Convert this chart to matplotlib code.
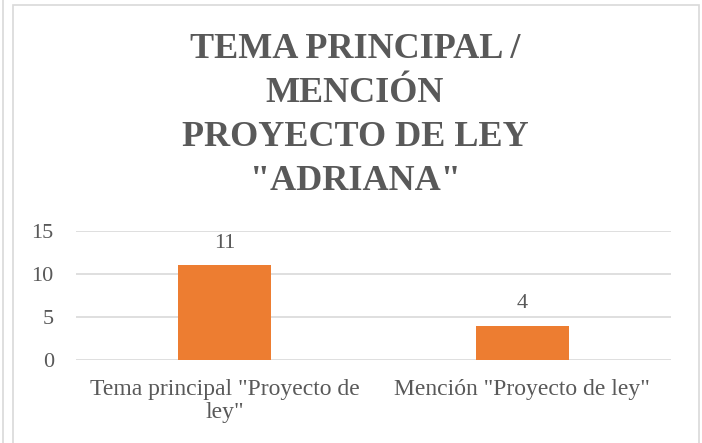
import matplotlib.pyplot as plt
from matplotlib.patches import Rectangle
from matplotlib.lines import Line2D

categories = ['Tema principal "Proyecto de\nley"', 'Mención "Proyecto de ley"']
values = [11, 4]
yticks = [0, 5, 10, 15]
title = 'TEMA PRINCIPAL /\nMENCIÓN\nPROYECTO DE LEY\n"ADRIANA"'

plt.rcParams['font.family'] = ['Liberation Serif', 'DejaVu Serif']
gray = '#595959'

W, H = 702, 443
fig = plt.figure(figsize=(W / 100, H / 100), dpi=100)

# marcos del gráfico
fig.add_artist(Line2D([3 / W, 3 / W], [0, 1], color='#d9d9d9', lw=1.2))
fig.add_artist(Rectangle((13 / W, -0.01), (699 - 13) / W, 1 - 5 / H + 0.01,
                         fill=False, edgecolor='#d9d9d9', lw=1.2))

ax = fig.add_axes([76 / W, 1 - 360 / H, (671 - 76) / W, (360 - 231) / H])
x = list(range(len(categories)))
bars = ax.bar(x, values, width=0.313, color='#ED7D31', zorder=3)
for b, v in zip(bars, values):
    ax.text(b.get_x() + b.get_width() / 2, v + 1.5, str(v), ha='center', va='bottom',
            fontsize=16, color=gray)

ax.set_xlim(-0.5, 1.5)
ax.set_ylim(0, 15)
ax.set_yticks(yticks)
ax.set_xticks(x)
ax.set_xticklabels(categories, fontsize=17, color=gray, linespacing=1.1)
ax.tick_params(axis='y', labelsize=16, labelcolor=gray, length=0, pad=16)
ax.tick_params(axis='x', length=0, pad=14)
ax.grid(axis='y', color='#d9d9d9', lw=1.2, zorder=0)
for s in ax.spines.values():
    s.set_visible(False)

fig.text(355 / W, 1 - 116 / H, title, ha='center', va='center', fontsize=26,
         fontweight='bold', color=gray, linespacing=1.44)

fig.savefig('out.png', dpi=100)
